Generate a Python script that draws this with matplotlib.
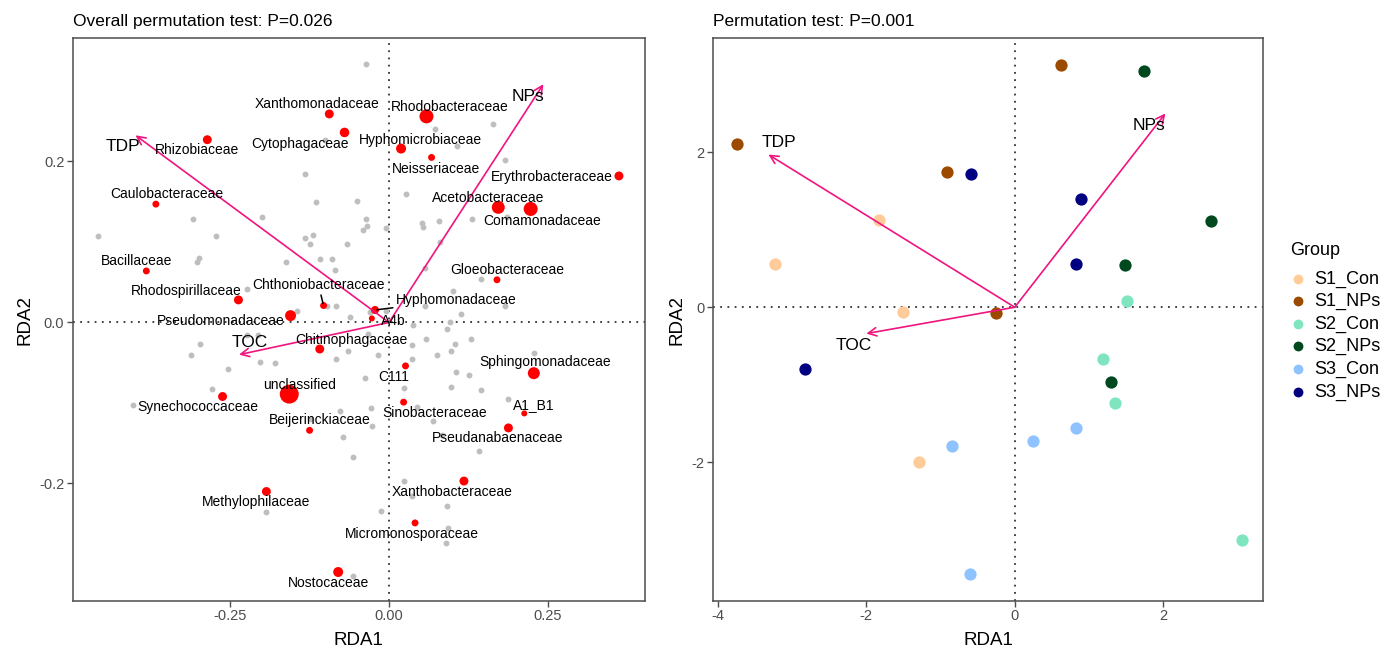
import numpy as np
import matplotlib.pyplot as plt

plt.rcParams['font.family'] = ['Liberation Sans', 'DejaVu Sans']
plt.rcParams['axes.unicode_minus'] = False

# ---------------- left panel: family scores ----------------
families = ['Xanthomonadaceae', 'Cytophagaceae', 'Rhizobiaceae', 'Hyphomicrobiaceae',
            'Caulobacteraceae', 'Bacillaceae', 'Rhodospirillaceae', 'Chthoniobacteraceae',
            'Pseudomonadaceae', 'Hyphomonadaceae', 'A4b', 'Rhodobacteraceae',
            'Neisseriaceae', 'Erythrobacteraceae', 'Acetobacteraceae', 'Comamonadaceae',
            'Gloeobacteraceae', 'Chitinophagaceae', 'unclassified', 'Synechococcaceae',
            'Beijerinckiaceae', 'Methylophilaceae', 'Nostocaceae', 'C111',
            'Sinobacteraceae', 'Sphingomonadaceae', 'A1_B1', 'Pseudanabaenaceae',
            'Xanthobacteraceae', 'Micromonosporaceae']
fam_x = [-0.094, -0.070, -0.286, 0.019, -0.367, -0.382, -0.237, -0.103,
         -0.155, -0.022, -0.027, 0.059, 0.067, 0.362, 0.172, 0.223,
         0.170, -0.109, -0.157, -0.262, -0.125, -0.193, -0.080, 0.026,
         0.023, 0.228, 0.213, 0.188, 0.118, 0.041]
fam_y = [0.259, 0.236, 0.227, 0.216, 0.147, 0.064, 0.028, 0.021,
         0.0085, 0.0155, 0.005, 0.256, 0.205, 0.182, 0.143, 0.141,
         0.053, -0.033, -0.089, -0.092, -0.134, -0.210, -0.310, -0.054,
         -0.099, -0.063, -0.113, -0.131, -0.197, -0.249]
fam_abund = [2.0, 2.3, 2.0, 2.5, 1.2, 1.2, 2.0, 1.2,
             3.0, 1.6, 0.9, 4.9, 1.2, 2.0, 4.2, 4.9,
             1.2, 2.0, 9.0, 2.0, 1.2, 2.0, 2.5, 1.2,
             1.2, 3.6, 0.9, 2.0, 2.0, 1.2]

# label offsets from the point, in pixels (dx right, dy down)
label_dx = [-12.6, -45, -10, 19.7, 10.7, -10, -52.6, -5,
            -69.7, 81, 21.6, 23, 4, -67, -9.7, 11.4,
            10.3, 31.8, 10.3, -24.4, 10.3, -10, -10, -12,
            31.3, 11, 9, -10.4, -12, -3]
label_dy = [-10, 11.7, 10.7, -9, -10, -10, -9.3, -20.3,
            5, -10, 2.3, -9, 11.6, 0.7, -9.6, 11.7,
            -10, -8.6, -9.3, 10.4, -10, 10.6, 10.6, 11,
            10.7, -10.7, -8.7, 10.3, 11, 10.7]
with_segment = ['Chthoniobacteraceae', 'Hyphomonadaceae']

# other (unlabelled) families
other_x = [-0.036, -0.100, -0.133, -0.115, -0.050, -0.200, -0.308, -0.036, -0.035, -0.041,
           -0.004, -0.458, -0.273, -0.133, -0.119, -0.125, -0.066, -0.299, -0.302, -0.162,
           -0.109, -0.089, -0.085, -0.224, -0.098, -0.083, -0.061, -0.145, -0.030, -0.004,
           0.164, 0.073, 0.107, 0.183, 0.027, 0.185, 0.052, 0.054, 0.078, 0.130,
           0.081, 0.056, 0.145, 0.100, 0.056, 0.182, 0.113, 0.038, 0.096, -0.224,
           -0.206, -0.298, -0.312, -0.203, -0.180, -0.254, -0.033, -0.064, -0.017, -0.083,
           -0.038, -0.279, -0.403, -0.077, -0.029, -0.123, -0.027, -0.072, -0.057, -0.194,
           -0.013, -0.057, 0.091, 0.058, 0.129, 0.036, 0.104, 0.076, 0.097, 0.037,
           0.229, 0.105, 0.126, 0.024, 0.098, 0.145, 0.187, 0.044, 0.069, 0.083,
           0.141, 0.023, 0.036, 0.091, 0.093, 0.090]
other_y = [0.321, 0.227, 0.184, 0.150, 0.151, 0.131, 0.129, 0.128, 0.120, 0.115,
           0.117, 0.107, 0.107, 0.105, 0.109, 0.098, 0.098, 0.080, 0.075, 0.075,
           0.079, 0.079, 0.065, 0.042, 0.020, 0.020, 0.007, 0.014, 0.013, 0.014,
           0.247, 0.240, 0.219, 0.202, 0.160, 0.131, 0.123, 0.118, 0.126, 0.128,
           0.100, 0.068, 0.054, 0.039, 0.021, 0.020, 0.010, -0.003, 0.000, -0.015,
           -0.016, -0.027, -0.041, -0.049, -0.050, -0.058, -0.014, -0.035, -0.040, -0.045,
           -0.069, -0.083, -0.102, -0.110, -0.106, -0.120, -0.128, -0.142, -0.167, -0.236,
           -0.234, -0.315, -0.008, -0.020, -0.020, -0.028, -0.027, -0.040, -0.036, -0.046,
           -0.038, -0.061, -0.065, -0.081, -0.080, -0.084, -0.095, -0.105, -0.123, -0.140,
           -0.160, -0.197, -0.216, -0.228, -0.255, -0.274]

env_names = ['TDP', 'NPs', 'TOC']
env_left_x = [-0.399, 0.243, -0.236]
env_left_y = [0.2325, 0.296, -0.040]
env_left_dx = [-12.4, -15.6, 10.7]
env_left_dy = [11.4, 12.7, -11.7]

# ---------------- right panel: samples ----------------
groups = ['S1_Con', 'S1_NPs', 'S2_Con', 'S2_NPs', 'S3_Con', 'S3_NPs']
group_colors = ['#FFCC99', '#9C4A00', '#7FE5BF', '#00491F', '#8FC3FF', '#000080']
sample_group = ['S1_Con'] * 4 + ['S1_NPs'] * 4 + ['S2_Con'] * 4 + \
               ['S2_NPs'] * 4 + ['S3_Con'] * 4 + ['S3_NPs'] * 4
sample_x = [-3.23, -1.83, -1.51, -1.29,
            -3.74, -0.91, 0.62, -0.25,
            1.51, 1.19, 1.35, 3.06,
            1.74, 2.65, 1.49, 1.30,
            0.82, 0.24, -0.85, -0.60,
            -0.59, 0.89, 0.82, -2.83]
sample_y = [0.56, 1.12, -0.06, -2.00,
            2.10, 1.75, 3.13, -0.07,
            0.08, -0.67, -1.24, -3.00,
            3.05, 1.11, 0.54, -0.96,
            -1.56, -1.72, -1.79, -3.44,
            1.72, 1.40, 0.56, -0.80]

env_right_x = [-3.32, 2.03, -2.00]
env_right_y = [1.97, 2.50, -0.34]
env_right_dx = [10.4, -16, -12.6]
env_right_dy = [-12.4, 12.4, 12.4]

pink = '#F0147F'
px = 0.72  # pixels -> points at dpi 100

fig = plt.figure(figsize=(13.97, 6.51), dpi=100)
ax1 = fig.add_axes([0.052, 0.0768, 0.4097, 0.8644])
ax2 = fig.add_axes([0.5102, 0.0768, 0.3941, 0.8644])


def style_axes(ax):
    for s in ax.spines.values():
        s.set_color('#4d4d4d')
        s.set_linewidth(1.1)
    ax.tick_params(direction='out', length=4, width=1, color='#4d4d4d',
                   labelcolor='#4d4d4d', labelsize=10.5, pad=2)
    ax.axhline(0, color='#333333', ls=(0, (1, 3)), lw=1.3, zorder=1)
    ax.axvline(0, color='#333333', ls=(0, (1, 3)), lw=1.3, zorder=1)
    ax.set_xlabel('RDA1', fontsize=13.5, labelpad=6)
    ax.set_ylabel('RDA2', fontsize=13.5, labelpad=4)


def draw_env(ax, xs, ys, dxs, dys):
    for name, x, y, dx, dy in zip(env_names, xs, ys, dxs, dys):
        ax.annotate('', xy=(x, y), xytext=(0, 0),
                    arrowprops=dict(arrowstyle='->,head_length=0.6,head_width=0.3',
                                    color=pink, lw=1.2, shrinkA=0, shrinkB=0),
                    zorder=4)
        ax.annotate(name, (x, y), xytext=(dx * px, -dy * px), textcoords='offset points',
                    ha='center', va='center', fontsize=12.5, zorder=6)


# left panel
style_axes(ax1)
ax1.scatter(other_x, other_y, s=18, color='#BEBEBE', linewidths=0, zorder=2)
ax1.scatter(fam_x, fam_y, s=np.array(fam_abund) * 20.7, color='#FF0000', linewidths=0, zorder=3)
draw_env(ax1, env_left_x, env_left_y, env_left_dx, env_left_dy)
for name, x, y, dx, dy in zip(families, fam_x, fam_y, label_dx, label_dy):
    props = None
    if name in with_segment:
        props = dict(arrowstyle='-', color='black', lw=1.1, shrinkA=0, shrinkB=1.5)
    ax1.annotate(name, (x, y), xytext=(dx * px, -dy * px), textcoords='offset points',
                 ha='center', va='center', fontsize=10, arrowprops=props, zorder=5)
ax1.set_xlim(-0.498, 0.403)
ax1.set_ylim(-0.346, 0.353)
ax1.set_xticks([-0.25, 0, 0.25])
ax1.set_xticklabels(['-0.25', '0.00', '0.25'])
ax1.set_yticks([-0.2, 0, 0.2])
ax1.set_yticklabels(['-0.2', '0.0', '0.2'])
ax1.set_title('Overall permutation test: P=0.026', loc='left', fontsize=12.5, pad=9)

# right panel
style_axes(ax2)
draw_env(ax2, env_right_x, env_right_y, env_right_dx, env_right_dy)
for g, c in zip(groups, group_colors):
    idx = [i for i, sg in enumerate(sample_group) if sg == g]
    ax2.scatter([sample_x[i] for i in idx], [sample_y[i] for i in idx],
                s=78, color=c, linewidths=0, zorder=3, label=g)
ax2.set_xlim(-4.07, 3.35)
ax2.set_ylim(-3.79, 3.47)
ax2.set_xticks([-4, -2, 0, 2])
ax2.set_yticks([-2, 0, 2])
ax2.set_title('Permutation test: P=0.001', loc='left', fontsize=12.5, pad=9)

leg = fig.legend(*ax2.get_legend_handles_labels(), loc='upper left',
                 bbox_to_anchor=(1274 / 1397, 1 - 226 / 651), frameon=False,
                 title='Group', fontsize=13, title_fontsize=13, handlelength=0.9,
                 handletextpad=0.4, labelspacing=0.3, markerscale=0.8)
leg._legend_box.align = 'left'
leg._legend_box._children[0].set_height(0)
leg._legend_box.sep = 8

fig.savefig('out.png', dpi=100)
